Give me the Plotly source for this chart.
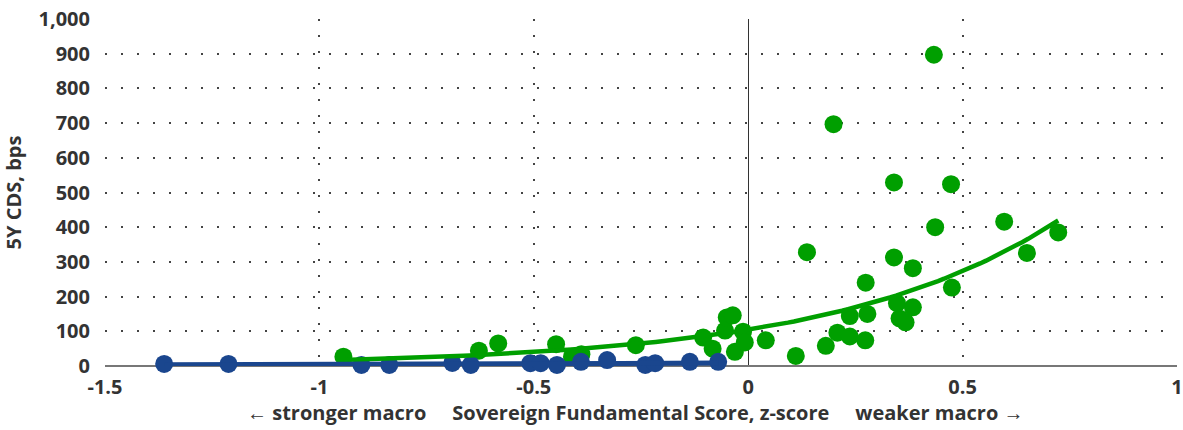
import numpy as np
import plotly.graph_objects as go

# Sovereign fundamental score (z-score) vs 5Y CDS spread (bps)
strong_x = [-1.362, -1.212, -0.902, -0.837, -0.690, -0.647, -0.508, -0.484,
            -0.446, -0.390, -0.329, -0.240, -0.217, -0.136, -0.070]
strong_y = [6, 6, 3, 3, 9, 3, 8, 8, 3, 12, 17, 3, 8, 12, 12]

weak_x = [-0.944, -0.628, -0.583, -0.448, -0.411, -0.389, -0.262, -0.105,
          -0.083, -0.054, -0.050, -0.036, -0.031, -0.012, -0.008, 0.041,
          0.111, 0.137, 0.181, 0.199, 0.208, 0.237, 0.237, 0.273, 0.274,
          0.278, 0.340, 0.340, 0.347, 0.353, 0.367, 0.384, 0.384, 0.433,
          0.436, 0.473, 0.475, 0.597, 0.650, 0.723]
weak_y = [27, 44, 65, 63, 27, 34, 60, 82, 50, 102, 140, 146, 41, 99, 68, 74,
          29, 328, 58, 697, 96, 85, 144, 74, 240, 150, 529, 313, 181, 137,
          126, 282, 169, 897, 400, 524, 226, 416, 326, 385]

x_ticks = [-1.5, -1, -0.5, 0, 0.5, 1]
x_tick_text = ["-1.5", "-1", "-0.5", "0", "0.5", "1"]
y_ticks = [0, 100, 200, 300, 400, 500, 600, 700, 800, 900, 1000]
y_tick_text = ["0", "100", "200", "300", "400", "500", "600", "700", "800", "900", "1,000"]

GREEN = "#009F00"
BLUE = "#1A468E"
TEXT = "#333333"


def exp_trend(xs, ys, n=120):
    """Exponential least-squares trend (fit on log values) over the data span."""
    xs = np.asarray(xs, float)
    ys = np.asarray(ys, float)
    b, ln_a = np.polyfit(xs, np.log(ys), 1)
    xx = np.linspace(xs.min(), xs.max(), n)
    return xx, np.exp(ln_a) * np.exp(b * xx)


gx, gy = exp_trend(weak_x, weak_y)
bx, by = exp_trend(strong_x, strong_y)

fig = go.Figure()
fig.add_trace(go.Scatter(x=weak_x, y=weak_y, mode="markers", cliponaxis=False,
                         marker=dict(size=18, color=GREEN, line=dict(width=0)),
                         showlegend=False))
fig.add_trace(go.Scatter(x=strong_x, y=strong_y, mode="markers", cliponaxis=False,
                         marker=dict(size=18, color=BLUE, line=dict(width=0)),
                         showlegend=False))
fig.add_trace(go.Scatter(x=gx, y=gy, mode="lines", cliponaxis=False,
                         line=dict(color=GREEN, width=4.5), showlegend=False))
fig.add_trace(go.Scatter(x=bx, y=by, mode="lines", cliponaxis=False,
                         line=dict(color=BLUE, width=5), showlegend=False))

FONT = "Open Sans"
tick_font = dict(family=FONT, size=20, color=TEXT, weight=700)

fig.update_xaxes(range=[-1.5, 1], tickvals=x_ticks, ticktext=x_tick_text,
                 showgrid=True, gridcolor="#444444", gridwidth=2,
                 griddash="2px,14px", zeroline=True, zerolinecolor="#333333",
                 zerolinewidth=1, showline=False, ticks="", tickfont=tick_font,
                 ticklabelstandoff=7, ticklabeloverflow="allow", automargin=False)
fig.update_yaxes(range=[0, 1000], tickvals=y_ticks, ticktext=y_tick_text,
                 showgrid=True, gridcolor="#444444", gridwidth=2,
                 griddash="2px,14px", zeroline=True, zerolinecolor="#777777",
                 zerolinewidth=1.5, showline=False, ticks="", tickfont=tick_font,
                 ticklabelstandoff=14,
                 title=dict(text="5Y CDS, bps", standoff=12,
                            font=dict(family=FONT, size=20, color=TEXT, weight=700)))

fig.add_annotation(
    text="\u2190 stronger macro &nbsp;&nbsp;&nbsp; Sovereign Fundamental Score, z-score"
         " &nbsp;&nbsp;&nbsp; weaker macro \u2192",
    xref="paper", yref="paper", x=0.494, y=-0.133, xanchor="center", yanchor="middle",
    showarrow=False, font=dict(family=FONT, size=20, color=TEXT, weight=700))

fig.update_layout(width=1183, height=430, margin=dict(l=105, r=6, t=19, b=64),
                  plot_bgcolor="white", paper_bgcolor="white")

fig.write_html("out.html")
